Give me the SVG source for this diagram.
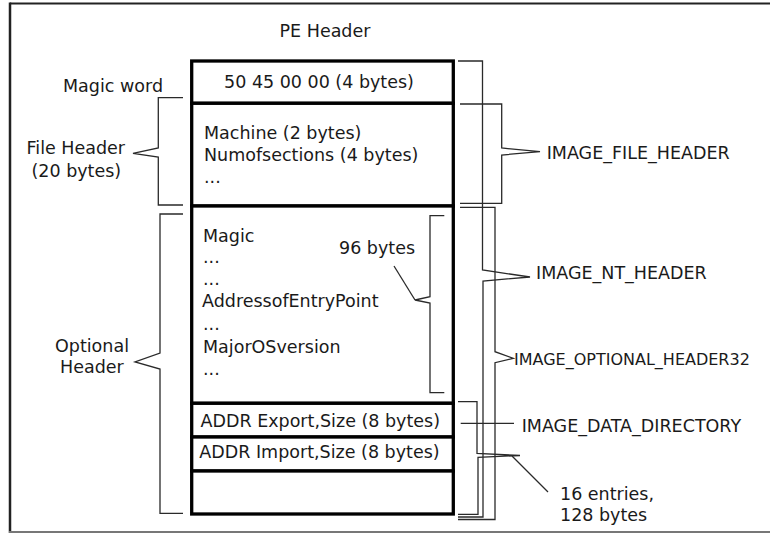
<svg xmlns="http://www.w3.org/2000/svg" width="770" height="534" viewBox="0 0 770 534">
<style>
  text { font-family: "DejaVu Sans", "Liberation Sans", sans-serif; font-size: 17.5px; fill: #1a1a1a; }
  .box { fill: #ffffff; stroke: #000000; stroke-width: 3.3; }
  .brace { fill: none; stroke: #2a2a2a; stroke-width: 1.3; stroke-linejoin: miter; }
  .mid { text-anchor: middle; }
  .narrow { font-size: 16px; }
</style>
<rect x="0" y="0" width="770" height="534" fill="#ffffff"/>
<g id="frame">
  <line x1="10" y1="3.5" x2="770" y2="3.5" stroke="#222" stroke-width="2.2"/>
  <line x1="10" y1="2.5" x2="10" y2="533" stroke="#222" stroke-width="2.5"/>
  <line x1="9" y1="532" x2="770" y2="532" stroke="#777" stroke-width="2"/>
</g>
<g id="title"><text x="325" y="36.5" class="mid">PE Header</text></g>

<g id="pe-header-box">
  <g id="magic-box">
    <rect class="box" x="191.7" y="61" width="261.6" height="42.3"/>
    <text x="319" y="88.3" class="mid">50 45 00 00 (4 bytes)</text>
  </g>
  <g id="file-header-box">
    <rect class="box" x="191.7" y="103.3" width="261.6" height="102.7"/>
    <text x="204" y="139.3">Machine (2 bytes)</text>
    <text x="204" y="160.7">Numofsections (4 bytes)</text>
    <text x="204" y="182.7">...</text>
  </g>
  <g id="optional-header-box">
    <rect class="box" x="191.7" y="206" width="261.6" height="197.3"/>
    <text x="203" y="241.7">Magic</text>
    <text x="203" y="263.3">...</text>
    <text x="203" y="285">...</text>
    <text x="202" y="307.3">AddressofEntryPoint</text>
    <text x="203" y="330">...</text>
    <text x="203" y="352.7">MajorOSversion</text>
    <text x="203" y="375">...</text>
    <text x="339" y="254">96 bytes</text>
  </g>
  <g id="export-box">
    <rect class="box" x="191.7" y="403.3" width="261.6" height="33.7"/>
    <text x="200.5" y="426.7">ADDR Export,Size (8 bytes)</text>
  </g>
  <g id="import-box">
    <rect class="box" x="191.7" y="437" width="261.6" height="34"/>
    <text x="199.3" y="458.3">ADDR Import,Size (8 bytes)</text>
  </g>
  <g id="empty-box">
    <rect class="box" x="191.7" y="471" width="261.6" height="43"/>
  </g>
</g>

<g id="label-magic-word"><text x="63" y="91.5">Magic word</text></g>
<g id="label-file-header">
  <text x="26.5" y="154">File Header</text>
  <text x="31.5" y="177">(20 bytes)</text>
</g>
<g id="label-optional-header">
  <text x="55" y="351.7">Optional</text>
  <text x="60" y="373.3">Header</text>
</g>
<g id="label-image-file-header"><text x="546.7" y="159.3">IMAGE_FILE_HEADER</text></g>
<g id="label-image-nt-header"><text x="536" y="279.3">IMAGE_NT_HEADER</text></g>
<g id="label-image-optional-header32"><text x="514" y="364.5" class="narrow">IMAGE_OPTIONAL_HEADER32</text></g>
<g id="label-image-data-directory"><text x="521.7" y="431.7">IMAGE_DATA_DIRECTORY</text></g>
<g id="label-16-entries">
  <text x="560" y="500">16 entries,</text>
  <text x="560" y="520.7">128 bytes</text>
</g>

<g id="connectors">
  <path class="brace" d="M183,97.7 H158.3 V148 L133,153.3 L158.3,157 V205 H183"/>
  <path class="brace" d="M183,214 H160 V353 L135,362 L160,369 V513.3 H183"/>
  <path class="brace" d="M444.3,215.7 H430 V296.7 L415,300 L430,303 V392.7 H444.3"/>
  <path class="brace" d="M415,300 L394,266"/>
  <path class="brace" d="M458,61 H482.5 V270 L530,277 L483,281 V517 H458"/>
  <path class="brace" d="M460,104 H501.7 V148 L540,151.7 L501.7,155 V203.3 H460"/>
  <path class="brace" d="M460,207.3 H495 V351.7 L513.3,358.3 L495,362.7 V519.5 H458"/>
  <path class="brace" d="M458,401.7 H477 V453.3 L520,455.5 L478,457.3 V514.3 H458"/>
  <path class="brace" d="M512,456 L548,492"/>
  <path class="brace" d="M460.7,423.3 H514"/>
</g>
</svg>
